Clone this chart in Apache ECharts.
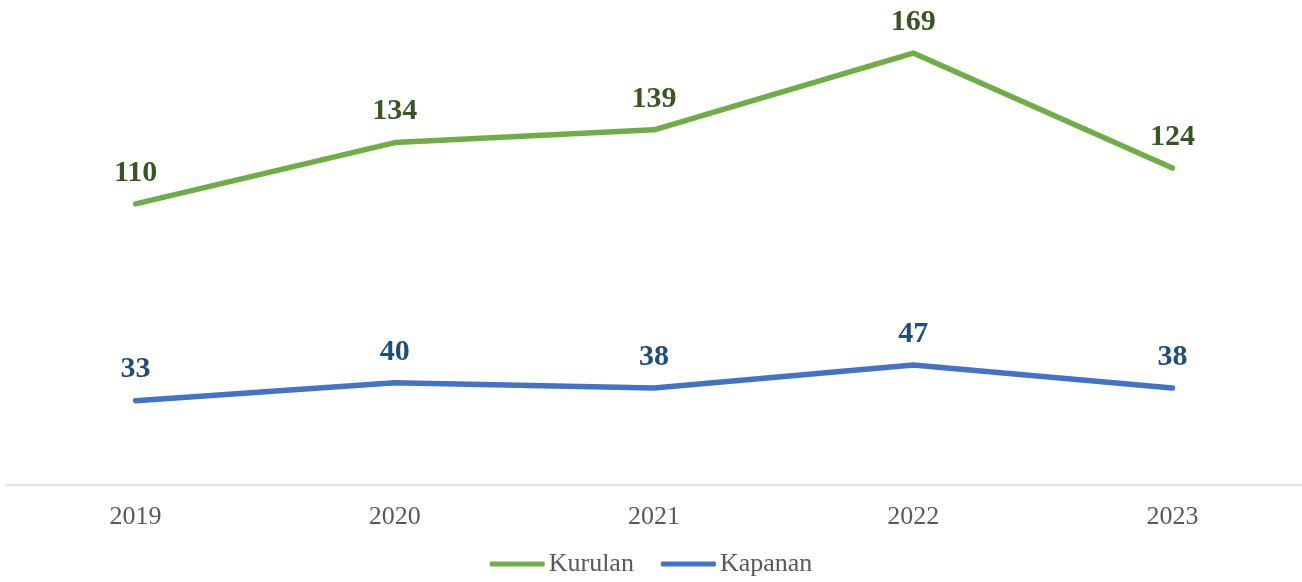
<!DOCTYPE html>
<html><head><meta charset="utf-8">
<script src="https://cdn.jsdelivr.net/npm/echarts@6/dist/echarts.min.js"></script>
<style>html,body{margin:0;padding:0;background:#fff}#c{width:1302px;height:582px}</style>
</head><body><div id="c"></div>
<script>
const categories = ['2019','2020','2021','2022','2023'];
const kurulan = [110,134,139,169,124];
const kapanan = [33,40,38,47,38];
const seriesNames = ['Kurulan','Kapanan'];

const chart = echarts.init(document.getElementById('c'));
const font = '"Liberation Serif","Times New Roman",serif';
chart.setOption({
  animation:false,
  grid:{left:6,right:0,top:25,bottom:97,containLabel:false},
  xAxis:{type:'category',data:categories,boundaryGap:true,
    axisLine:{lineStyle:{color:'#d9d9d9',width:1.5}},axisTick:{show:false},
    axisLabel:{fontFamily:font,fontSize:26,color:'#595959',margin:19}},
  yAxis:{type:'value',min:0,max:180,show:false,splitLine:{show:false}},
  legend:{top:546,left:'center',itemWidth:55,itemHeight:5,itemGap:27,icon:'roundRect',
    textStyle:{fontFamily:font,fontSize:26,color:'#595959',padding:[0,0,0,-1]},
    data:seriesNames},
  series:[
    {name:seriesNames[0],type:'line',data:kurulan,showSymbol:true,symbol:'circle',symbolSize:0,
     lineStyle:{color:'#70AD47',width:5.5,cap:'round',join:'round'},itemStyle:{color:'#70AD47'},
     label:{show:true,position:'top',distance:16,fontFamily:font,fontWeight:'bold',fontSize:30,color:'#375623'}},
    {name:seriesNames[1],type:'line',data:kapanan,showSymbol:true,symbol:'circle',symbolSize:0,
     lineStyle:{color:'#4472C4',width:5.5,cap:'round',join:'round'},itemStyle:{color:'#4472C4'},
     label:{show:true,position:'top',distance:16,fontFamily:font,fontWeight:'bold',fontSize:30,color:'#1F4E79'}}
  ]
});
</script></body></html>
